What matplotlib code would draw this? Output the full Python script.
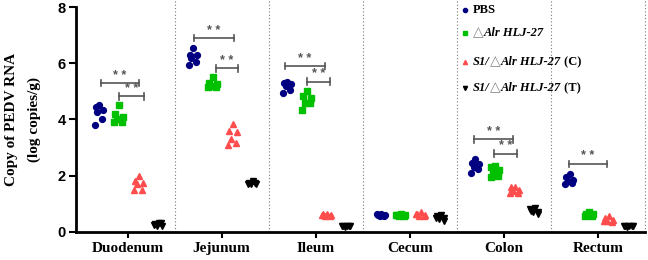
import numpy as np
import matplotlib.pyplot as plt

tissues = ['Duodenum', 'Jejunum', 'Ileum', 'Cecum', 'Colon', 'Rectum']

pbs = [
    [4.5, 4.45, 4.35, 4.25, 4.0, 3.8],
    [6.55, 6.3, 6.3, 6.2, 6.05, 5.95],
    [5.35, 5.3, 5.25, 5.2, 5.05, 4.95],
    [0.65, 0.6, 0.6, 0.58, 0.55, 0.62],
    [2.6, 2.45, 2.4, 2.3, 2.25, 2.1],
    [2.05, 1.95, 1.85, 1.8, 1.75, 1.7],
]
alr = [
    [4.5, 4.2, 4.1, 4.0, 3.9, 3.9],
    [5.5, 5.3, 5.25, 5.2, 5.15, 5.15],
    [5.0, 4.85, 4.75, 4.6, 4.6, 4.35],
    [0.65, 0.6, 0.6, 0.58, 0.55, 0.6],
    [2.35, 2.3, 2.2, 2.1, 2.0, 1.95],
    [0.7, 0.65, 0.62, 0.6, 0.55, 0.58],
]
s1_c = [
    [2.0, 1.8, 1.75, 1.7, 1.5, 1.5],
    [3.85, 3.6, 3.55, 3.3, 3.15, 3.1],
    [0.65, 0.62, 0.6, 0.58, 0.55, 0.6],
    [0.7, 0.65, 0.6, 0.58, 0.55, 0.62],
    [1.6, 1.6, 1.5, 1.45, 1.4, 1.4],
    [0.55, 0.5, 0.42, 0.4, 0.35, 0.4],
]
s1_t = [
    [0.32, 0.28, 0.22, 0.2, 0.3, 0.25],
    [1.8, 1.75, 1.72, 1.7, 1.75, 1.7],
    [0.22, 0.2, 0.2, 0.18, 0.2, 0.22],
    [0.6, 0.55, 0.5, 0.45, 0.4, 0.5],
    [0.85, 0.75, 0.72, 0.7, 0.65, 0.8],
    [0.22, 0.2, 0.2, 0.18, 0.2, 0.2],
]

# significance brackets: tissue index, y, left offset, right offset
sig = [
    (0, 5.3, -0.28, 0.12), (0, 4.82, -0.09, 0.17),
    (1, 6.9, -0.29, 0.13), (1, 5.82, -0.06, 0.17),
    (2, 5.9, -0.33, 0.10), (2, 5.35, -0.09, 0.15),
    (4, 3.3, -0.32, 0.10), (4, 2.78, -0.10, 0.14),
    (5, 2.42, -0.31, 0.10),
]

groups = [
    (pbs, 'o', '#000080', -0.30),
    (alr, 's', '#00c000', -0.09),
    (s1_c, '^', '#ff4c4c', 0.12),
    (s1_t, 'v', 'black', 0.33),
]
jit = np.array([0.0, -0.04, 0.04, -0.02, 0.03, -0.05])

fig = plt.figure(figsize=(6.48, 2.60), dpi=100)
ax = fig.add_axes([0.117, 0.108, 0.878, 0.865])

for data, mk, col, off in groups:
    for i, vals in enumerate(data):
        xs = i + off + jit
        ax.plot(xs, vals, ls='none', marker=mk, ms=4.2, color=col, mec=col)

for i in range(6):
    ax.axvline(i + 0.5, color='#777777', ls=(0, (1, 2)), lw=0.8, ymax=1.05, clip_on=False)

for i, y, a, b in sig:
    x0, x1 = i + a, i + b
    ax.plot([x0, x1], [y, y], color='#555555', lw=1.2)
    ax.plot([x0, x0], [y - 0.12, y + 0.12], color='#555555', lw=1.2)
    ax.plot([x1, x1], [y - 0.12, y + 0.12], color='#555555', lw=1.2)
    ax.text((x0 + x1) / 2, y + 0.05, '* *', ha='center', va='bottom',
            fontsize=9, color='#555555', fontweight='bold', family='Liberation Sans')

ax.set_xlim(-0.55, 5.5)
ax.set_ylim(0, 8)
ax.set_yticks([0, 2, 4, 6, 8])
ax.set_xticks(range(6))
ax.set_xticklabels(tissues, family='Liberation Serif', fontweight='bold', fontsize=11)
for lab in ax.get_yticklabels():
    lab.set_family('Liberation Sans')
    lab.set_fontweight('bold')
    lab.set_fontsize(10.5)
ax.tick_params(axis='y', width=1.5, length=5, direction='out', pad=2)
ax.tick_params(axis='x', width=1.5, length=4, direction='out', pad=3)
for s in ['top', 'right']:
    ax.spines[s].set_visible(False)
for s in ['left', 'bottom']:
    ax.spines[s].set_linewidth(2)

ax.set_ylabel('Copy of PEDV RNA\n(log copies/g)', family='Liberation Serif',
              fontweight='bold', fontsize=11, labelpad=12, linespacing=1.9)

# legend built from text pieces
fam = ['Liberation Serif', 'DejaVu Sans']
rows = [
    [('PBS', 'normal', 'bold')],
    [('\u25b3', 'normal', 'normal'), ('Alr HLJ-27', 'italic', 'bold')],
    [('S1/', 'italic', 'bold'), ('\u25b3', 'normal', 'normal'),
     ('Alr HLJ-27', 'italic', 'bold'), (' (C)', 'normal', 'bold')],
    [('S1/', 'italic', 'bold'), ('\u25b3', 'normal', 'normal'),
     ('Alr HLJ-27', 'italic', 'bold'), (' (T)', 'normal', 'bold')],
]
row_y = [0.962, 0.873, 0.762, 0.662]
for (data, mk, col, off), pieces, yy in zip(groups, rows, row_y):
    ax.plot([0.7175], [yy], transform=fig.transFigure, marker=mk, ms=3,
            color=col, ls='none', clip_on=False)
    t = None
    for txt, sty, wt in pieces:
        c = '#888888' if txt == '\u25b3' else 'black'
        fs = 10 if txt == '\u25b3' else 9
        if t is None:
            t = fig.text(0.73, yy, txt, fontsize=fs, style=sty, fontweight=wt,
                         family=fam, va='center', ha='left', color=c)
        else:
            t = ax.annotate(txt, xy=(1, 0.5), xycoords=t, xytext=(0, 0),
                            textcoords='offset points', va='center', ha='left',
                            fontsize=fs, style=sty, fontweight=wt, family=fam,
                            color=c, annotation_clip=False)

fig.savefig('out.png', dpi=100)
